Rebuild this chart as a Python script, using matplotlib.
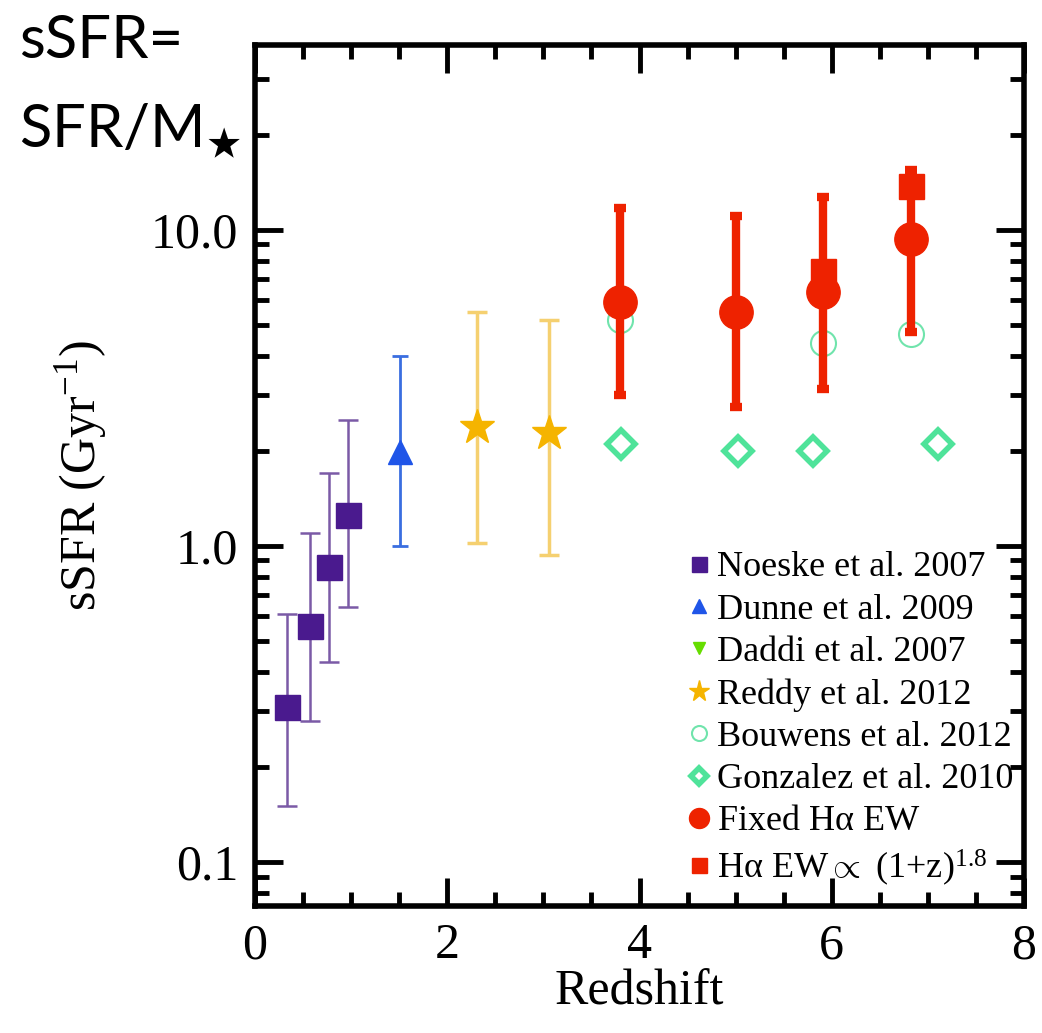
import numpy as np
import matplotlib
matplotlib.use("Agg")
import matplotlib.pyplot as plt
from matplotlib.ticker import FixedLocator, NullFormatter, MultipleLocator

# Noeske et al. 2007
noeske_z = [0.33, 0.57, 0.77, 0.97]
noeske_s = [0.31, 0.56, 0.86, 1.25]
noeske_lo = [0.15, 0.28, 0.43, 0.64]
noeske_hi = [0.61, 1.10, 1.70, 2.50]

# Dunne et al. 2009
dunne_z = [1.51]
dunne_s = [1.98]
dunne_lo = [1.0]
dunne_hi = [4.0]

# Reddy et al. 2012
reddy_z = [2.31, 3.06]
reddy_s = [2.38, 2.28]
reddy_lo = [1.02, 0.94]
reddy_hi = [5.5, 5.2]

# Bouwens et al. 2012
bouwens_z = [3.80, 5.91, 6.82]
bouwens_s = [5.2, 4.4, 4.7]

# Gonzalez et al. 2010
gonz_z = [3.81, 5.02, 5.81, 7.11]
gonz_s = [2.1, 2.0, 2.0, 2.1]

# Fixed Halpha EW
fixed_z = [3.80, 5.00, 5.91, 6.82]
fixed_s = [5.9, 5.5, 6.35, 9.4]
fixed_lo = [3.0, 2.75, 3.14, 4.75]
fixed_hi = [11.7, 11.1, 12.7, 15.5]

# Halpha EW ~ (1+z)^1.8
evol_z = [5.91, 6.82]
evol_s = [7.4, 13.8]

def yerr(s, lo, hi):
    s = np.array(s); return [s - np.array(lo), np.array(hi) - s]

plt.rcParams['font.family'] = ['Liberation Serif', 'DejaVu Serif']
plt.rcParams['mathtext.fontset'] = 'custom'
plt.rcParams['mathtext.rm'] = 'Liberation Serif'
plt.rcParams['mathtext.it'] = 'Liberation Serif'
fig = plt.figure(figsize=(10.42, 10.33), dpi=100)
ax = fig.add_axes([255/1042, 1 - 906/1033, (1024-255)/1042, (906-45)/1033])

ax.errorbar(noeske_z, noeske_s, yerr=yerr(noeske_s, noeske_lo, noeske_hi), fmt='none',
            ecolor='#7b5aa6', elinewidth=1.8, capsize=7, capthick=1.8)
ax.plot(noeske_z, noeske_s, 's', color='#4a1a8e', ms=18, label='Noeske et al. 2007')

ax.errorbar(dunne_z, dunne_s, yerr=yerr(dunne_s, dunne_lo, dunne_hi), fmt='none',
            ecolor='#3a6ee0', elinewidth=2, capsize=6, capthick=2)
ax.plot(dunne_z, dunne_s, '^', color='#1f55e8', ms=17, label='Dunne et al. 2009')

ax.plot([], [], 'v', color='#66dd00', ms=14, label='Daddi et al. 2007')

ax.errorbar(reddy_z, reddy_s, yerr=yerr(reddy_s, reddy_lo, reddy_hi), fmt='none',
            ecolor='#f5d070', elinewidth=2.5, capsize=7, capthick=2.5)
ax.plot(reddy_z, reddy_s, '*', color='#f5b400', ms=26, label='Reddy et al. 2012')

ax.plot(bouwens_z, bouwens_s, 'o', mfc='none', mec='#70e4ac', mew=1.5, ms=18,
        label='Bouwens et al. 2012')
ax.plot(gonz_z, gonz_s, 'D', mfc='white', mec='#4fe39a', mew=4, ms=14,
        label='Gonzalez et al. 2010')

ax.errorbar(fixed_z, fixed_s, yerr=yerr(fixed_s, fixed_lo, fixed_hi), fmt='none',
            ecolor='#ee2200', elinewidth=6, capsize=4, capthick=6)
ax.plot(fixed_z, fixed_s, 'o', color='#ee2200', ms=24, label=r'Fixed H$\alpha$ EW')
ax.plot(evol_z, evol_s, 's', color='#ee2200', ms=18, label=r'H$\alpha$ EW$\propto$ (1+z)$^{1.8}$')

ax.set_yscale('log')
ax.set_xlim(0, 8)
ax.set_ylim(0.0726, 38.5)
ax.xaxis.set_major_locator(MultipleLocator(2))
ax.xaxis.set_minor_locator(MultipleLocator(0.5))
ax.yaxis.set_major_locator(FixedLocator([0.1, 1.0, 10.0]))
ax.set_yticklabels(['0.1', '1.0', '10.0'])
ax.yaxis.set_minor_formatter(NullFormatter())
ax.tick_params(which='both', direction='in', top=True, right=True, labelsize=36, width=3.5)
ax.tick_params(which='major', length=20, pad=12)
ax.tick_params(which='minor', length=10)
for sp in ax.spines.values():
    sp.set_linewidth(4)

ax.set_xlabel('Redshift', fontsize=36, labelpad=0)
ax.set_ylabel(r'sSFR (Gyr$^{{-}1}$)', fontsize=36, labelpad=30)

leg = ax.legend(loc='lower right', frameon=False, fontsize=26, handletextpad=0.1,
                handlelength=0.8, labelspacing=0.25, borderaxespad=0.1, markerscale=0.6,
                bbox_to_anchor=(1.01, 0.0))

fig.text(0.018, 0.96, 'sSFR=', fontsize=43, family=['Lato', 'DejaVu Sans'], va='center')
fig.text(0.018, 0.874, r'SFR/M$_\bigstar$', fontsize=43, family=['Lato', 'DejaVu Sans'], va='center')

fig.savefig('out.png', dpi=100)
